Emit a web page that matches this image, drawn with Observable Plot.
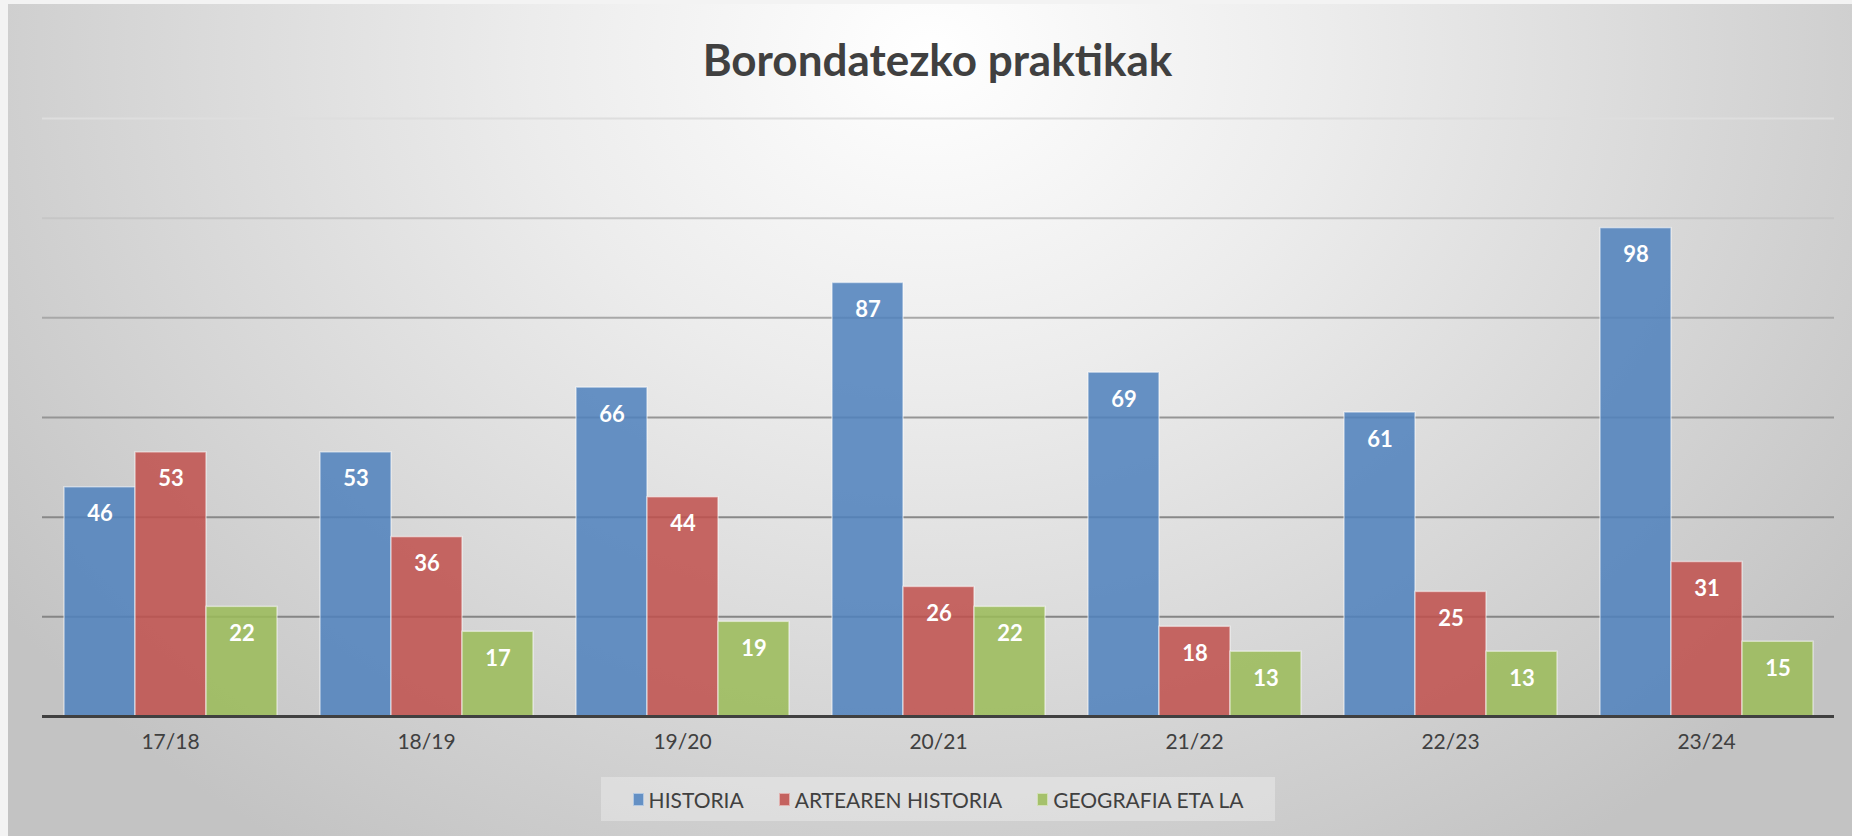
<!DOCTYPE html>
<html>
<head>
<meta charset="utf-8">
<script src="https://cdn.jsdelivr.net/npm/d3@7"></script>
<script src="https://cdn.jsdelivr.net/npm/@observablehq/plot@0.6"></script>
<style>
  html, body { margin: 0; padding: 0; background: #f3f3f3; }
  #frame {
    position: absolute; left: 8px; top: 4px; width: 1844px; height: 832px;
    background: radial-gradient(ellipse 62% 115% at 50% 6%, #ffffff 0%, #ececec 35%, #d6d6d6 70%, #c3c3c3 100%);
    font-family: Lato, "Open Sans", sans-serif;
  }
  #title {
    box-sizing: border-box; height: 100px; padding: 33px 16px 0 31px;
    text-align: center; font-weight: bold; font-size: 44px; line-height: 44px; color: #404040;
  }
  #chart svg { display: block; }
  #legend {
    box-sizing: border-box; margin: 5px 0 0 593px; width: 674px; height: 44px;
    background: rgba(255,255,255,0.3);
    display: flex; align-items: center; justify-content: center; gap: 35px;
    font-size: 21px; color: #404040;
  }
  .item { display: flex; align-items: center; }
  .sw { width: 11px; height: 13px; margin-right: 5px; box-sizing: border-box; border: 1px solid rgba(255,255,255,0.5); }
</style>
</head>
<body>
<div id="frame">
  <div id="title">Borondatezko praktikak</div>
  <div id="chart"></div>
  <div id="legend"></div>
</div>
<script>
const seasons = ["17/18", "18/19", "19/20", "20/21", "21/22", "22/23", "23/24"];
const seriesNames = ["HISTORIA", "ARTEAREN HISTORIA", "GEOGRAFIA ETA LA"];
const historia = [46, 53, 66, 87, 69, 61, 98];
const artearenHistoria = [53, 36, 44, 26, 18, 25, 31];
const geografia = [22, 17, 19, 22, 13, 13, 15];
const gridTicks = [20, 40, 60, 80, 100, 120];

const seriesValues = [historia, artearenHistoria, geografia];
const baseColors = ["#4F81BD", "#C0504D", "#9BBB59"];
const swatchColors = ["#6490C4", "#C4625F", "#A5C16B"];
const gridColors = {20: "#858585", 40: "#888888", 60: "#959595", 80: "#a8a8a8", 100: "#c6c6c6", 120: "#dedede"};

const data = [];
seasons.forEach((s, i) => {
  seriesNames.forEach((name, j) => {
    data.push({season: s, series: name, value: seriesValues[j][i]});
  });
});

const chart = Plot.plot({
  width: 1844,
  height: 668,
  marginLeft: 31,
  marginRight: 16,
  marginTop: 14,
  marginBottom: 56,
  style: {background: "transparent", fontFamily: "Lato, 'Open Sans', sans-serif", fontSize: "21px", color: "#404040", overflow: "visible"},
  fx: {domain: seasons, padding: 0, label: null, tickSize: 0, tickPadding: 18},
  x: {domain: seriesNames, axis: null, paddingInner: 0, paddingOuter: 0.3},
  y: {domain: [0, 120], axis: null},
  color: {domain: seriesNames, range: baseColors},
  marks: [
    ...gridTicks.map(t => Plot.ruleY([t], {stroke: gridColors[t], strokeWidth: 2})),
    Plot.barY(data, {
      fx: "season", x: "series", y: "value", fill: "series", fillOpacity: 0.86,
      stroke: "white", strokeOpacity: 0.5, strokeWidth: 1.5, inset: 0
    }),
    Plot.text(data, {
      fx: "season", x: "series", y: "value", text: d => String(d.value),
      dy: 27, fill: "white", fontWeight: "bold", fontSize: 22
    }),
    Plot.ruleY([0], {stroke: "#404040", strokeWidth: 3})
  ]
});
document.getElementById("chart").appendChild(chart);

const legend = document.getElementById("legend");
seriesNames.forEach((name, j) => {
  const item = document.createElement("div");
  item.className = "item";
  const sw = document.createElement("span");
  sw.className = "sw";
  sw.style.background = swatchColors[j];
  const label = document.createElement("span");
  label.textContent = name;
  item.appendChild(sw);
  item.appendChild(label);
  legend.appendChild(item);
});
</script>
</body>
</html>
